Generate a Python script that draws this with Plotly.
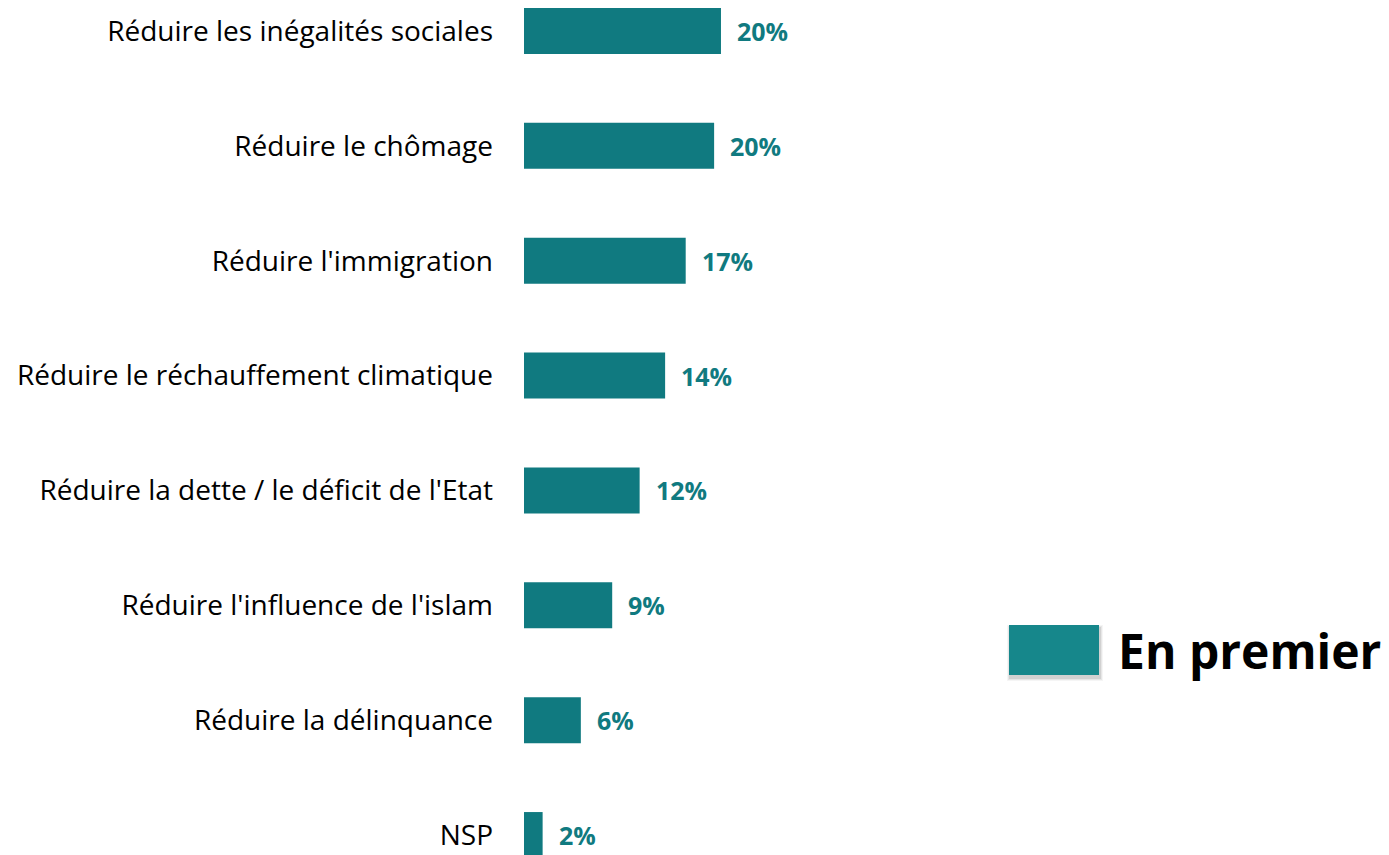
import plotly.graph_objects as go

categories = [
    "Réduire les inégalités sociales",
    "Réduire le chômage",
    "Réduire l'immigration",
    "Réduire le réchauffement climatique",
    "Réduire la dette / le déficit de l'Etat",
    "Réduire l'influence de l'islam",
    "Réduire la délinquance",
    "NSP",
]
values = [20.1, 19.4, 16.5, 14.4, 11.8, 9.0, 5.8, 1.9]
value_labels = ["20%", "20%", "17%", "14%", "12%", "9%", "6%", "2%"]
series_name = "En premier"

BAR = "#107a80"
LEG = "#16878b"
FONT = "Open Sans"

# page body has an 8px margin; work in figure pixel coordinates
OFF = 8
W, H = 1389 - OFF, 855 - OFF
L = 524 - OFF

fig = go.Figure()
fig.add_trace(go.Bar(
    y=categories, x=values, orientation="h",
    marker=dict(color=BAR, line=dict(width=0)),
    name=series_name, showlegend=False, hoverinfo="skip",
))

for c, v, t in zip(categories, values, value_labels):
    fig.add_annotation(x=v, y=c, xref="x", yref="y", text=t, showarrow=False,
                       xanchor="left", yanchor="middle", xshift=14,
                       font=dict(family=FONT, size=25, color=BAR, weight="bold"))

def px(x):
    return (x - OFF - L) / (W - L)
def py(y):
    return 1 - (y - OFF) / H

# legend key with soft shadow
for i, op in enumerate([0.04, 0.06, 0.09]):
    d = 3 - i
    fig.add_shape(type="rect", xref="paper", yref="paper",
                  x0=px(1009 - d + 1), x1=px(1099 + d + 1), y0=py(675 + d + 3), y1=py(625 - d + 3),
                  fillcolor=f"rgba(0,0,0,{op})", line=dict(width=0), layer="above")
fig.add_shape(type="rect", xref="paper", yref="paper",
              x0=px(1009), x1=px(1099), y0=py(675), y1=py(625),
              fillcolor=LEG, line=dict(width=0), layer="above")
fig.add_annotation(x=px(1116), y=py(650), xref="paper", yref="paper", text=series_name,
                   showarrow=False, xanchor="left", yanchor="middle",
                   font=dict(family=FONT, size=48, color="#000000", weight="bold"))

fig.update_layout(
    width=W, height=H,
    margin=dict(l=L, r=0, t=0, b=0),
    paper_bgcolor="white", plot_bgcolor="white",
    bargap=0.6,
    font=dict(family=FONT, size=28, color="#000000"),
)
# x: 0 at pixel 524, ~9.8 px per percent
fig.update_xaxes(range=[0, (W - L) / 9.8], visible=False)
# y: category spacing 115 px, first center at y=31 in page
top = (31 - OFF) / 115
bottom = 7 + (H - (835 - OFF)) / 115
fig.update_yaxes(range=[bottom, -top], showgrid=False, zeroline=False, showline=False,
                 ticks="", ticklabelstandoff=30,
                 tickfont=dict(family=FONT, size=28, color="#000000"))

fig.write_html("out.html")
